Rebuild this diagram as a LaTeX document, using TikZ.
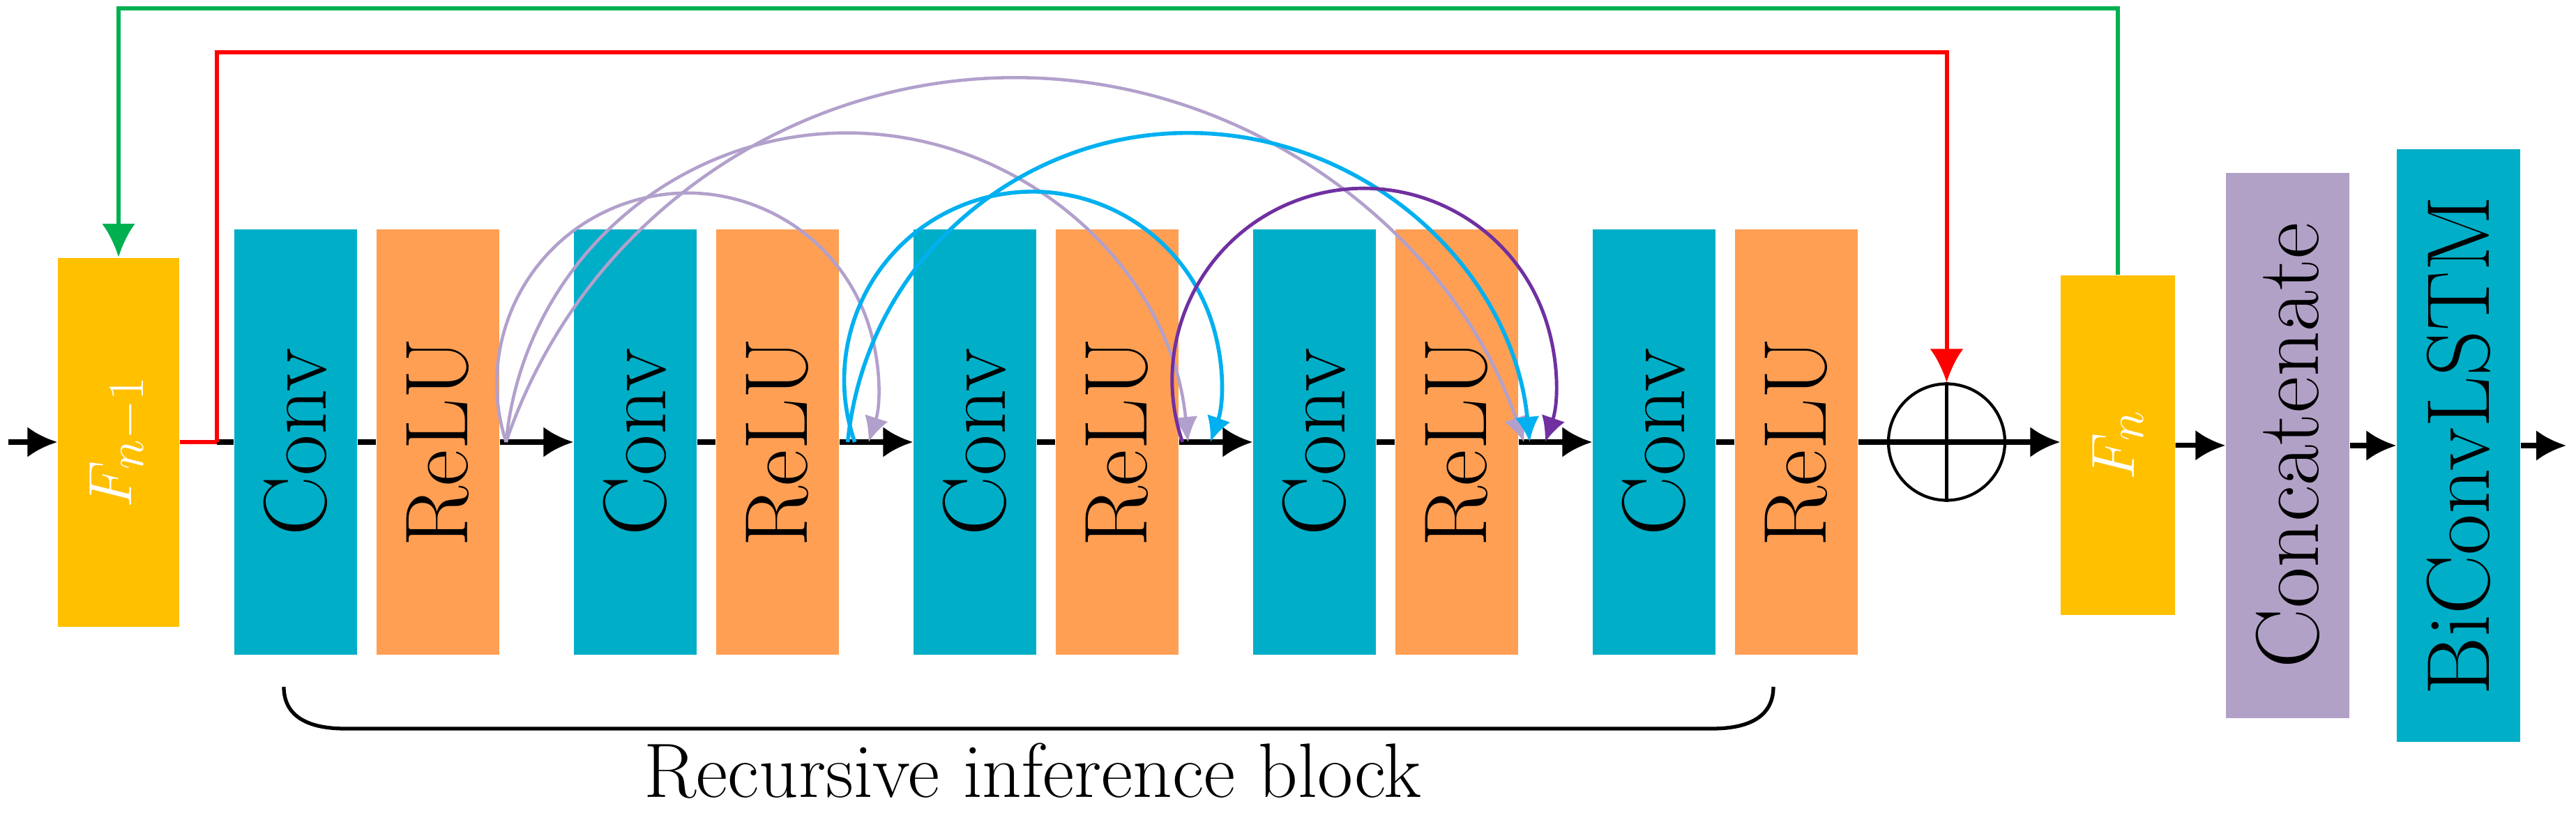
\documentclass[tikz,border=0pt]{standalone}
\usepackage{tikz}
\usepackage{graphicx}
\usetikzlibrary{arrows.meta,calc,positioning}
\definecolor{convteal}{RGB}{0,174,199}
\definecolor{reluorange}{RGB}{255,159,84}
\definecolor{featyellow}{RGB}{255,192,0}
\definecolor{catlilac}{RGB}{178,161,199}
\definecolor{skiplilac}{RGB}{178,160,204}
\definecolor{skipcyan}{RGB}{0,176,240}
\definecolor{skippurple}{RGB}{112,48,160}
\definecolor{loopgreen}{RGB}{0,176,80}
\tikzset{
    block/.style = {rectangle, inner sep=0pt,
        minimum width=1.76cm,
        minimum height=6.10cm, font=\fontsize{36.4}{44}\selectfont},
    conv/.style = {block, fill=convteal},
    relu/.style = {block, fill=reluorange},
    feat/.style = {rectangle, inner sep=0pt, fill=featyellow, text=white,
        font=\fontsize{31}{38}\selectfont},
    input/.style = {coordinate},
    sum/.style = {draw, circle, line width=1.2pt, minimum size=1.67cm, inner sep=0pt},
    mainline/.style = {draw, line width=2.0pt},
    loopline/.style = {draw, line width=1.7pt},
    bigtip/.style = {-{Latex[length=4.8mm,width=4.8mm]}},
    dense/.style = {draw, -{Latex[length=3.6mm,width=3.5mm]}}
}

\begin{document}
\begin{tikzpicture}[auto, node distance=2cm, >={Latex[length=4.3mm,width=4.4mm]}]
    \useasboundingbox (0,0) rectangle (36.94,11.65);
    \node [feat, minimum width=1.74cm, minimum height=5.29cm] (fprev) at (1.70,5.31) {\rotatebox{90}{$F_{n-1}$}};
    \node [input, name=in] at (0.12,5.31) {};
    \draw [mainline,->] (in) -- (fprev);
    \node [coordinate, right of=fprev, node distance=1.41cm] (split) {};
    \node [conv, right of=fprev, node distance=2.54cm] (conv1) {\rotatebox{90}{Conv}};
    \node [relu, right of=conv1, node distance=2.04cm] (relu1) {\rotatebox{90}{ReLU}};
    \draw [mainline] (split) -- (conv1);
    \draw [mainline] (conv1) -- (relu1);
    \foreach \a [evaluate=\a as \prev using int(\a-1)] in {2,...,5}{
        \node [conv, right of=relu\prev, node distance=2.83cm] (conv\a) {\rotatebox{90}{Conv}};
        \node [relu, right of=conv\a, node distance=2.04cm] (relu\a) {\rotatebox{90}{ReLU}};
        \draw [mainline,->] (relu\prev) -- (conv\a);
        \draw [mainline] (conv\a) -- (relu\a);
    }
    \node [sum, right of=relu5, node distance=2.155cm] (plus) {};
    \draw [mainline] (relu5) -- (plus.east);
    \draw [line width=1.2pt] (plus.north) -- (plus.south);
    \node [feat, minimum width=1.64cm, minimum height=4.87cm] (fn) at (30.37,5.265) {\rotatebox{90}{$F_n$}};
    \draw [mainline,->] (plus.east) -- (plus.east -| fn.west);
    \node [block, fill=catlilac, minimum width=1.77cm, minimum height=7.82cm] (concat) at (32.805,5.26) {\rotatebox{90}{Concatenate}};
    \node [block, fill=convteal, minimum width=1.77cm, minimum height=8.50cm] (bilstm) at (35.255,5.26) {\rotatebox{90}{BiConvLSTM}};
    \node [input, name=out] at (36.80,5.26) {};
    \draw [mainline,->] (fn) -- (concat);
    \draw [mainline,->] (concat) -- (bilstm);
    \draw [mainline,->] (bilstm) -- (out);
    % dense connections
    \coordinate (tap1) at ($(relu1.east)+(0.09,0)$);
    \coordinate (tap2a) at ($(relu2.east)+(0.12,0)$);
    \coordinate (tap2b) at ($(relu2.east)+(0.22,0)$);
    \coordinate (tap3) at ($(relu3.east)+(0.05,0)$);
    \draw [dense, skiplilac, line width=1.3pt] (tap1) arc[start angle=197.9, end angle=-17.9, radius=2.732];
    \draw [dense, skiplilac, line width=1.3pt] (tap1) arc[start angle=174.4, end angle=5.6, radius=4.913];
    \draw [dense, skiplilac, line width=1.3pt] (tap1) arc[start angle=161.2, end angle=18.8, radius=7.71];
    \draw [dense, skipcyan, line width=1.6pt] (tap2b) arc[start angle=199.24, end angle=-19.24, radius=2.701];
    \draw [dense, skipcyan, line width=1.6pt] (tap2a) arc[start angle=174.4, end angle=5.6, radius=4.913];
    \draw [dense, skippurple, line width=1.4pt] (tap3) arc[start angle=198.9, end angle=-18.9, radius=2.748];
    % residual and recursion
    \draw [loopline, red] (fprev.east) -- (split);
    \draw [loopline, red, bigtip] (split) -- ++(0,5.59) -| (plus.north);
    \draw [loopline, loopgreen, bigtip] (fn.north) -- ++(0,3.82) -| (fprev.north);
    \draw [line width=1.5pt] (4.07,1.80) .. controls (4.07,1.42) and (4.35,1.20) .. (4.95,1.20) -- (24.55,1.20) .. controls (25.15,1.20) and (25.43,1.42) .. (25.43,1.80);
    \node [font=\fontsize{31.5}{38}\selectfont, anchor=base] (riblabel) at (14.81,0.22) {Recursive inference block};
\end{tikzpicture}
\end{document}
